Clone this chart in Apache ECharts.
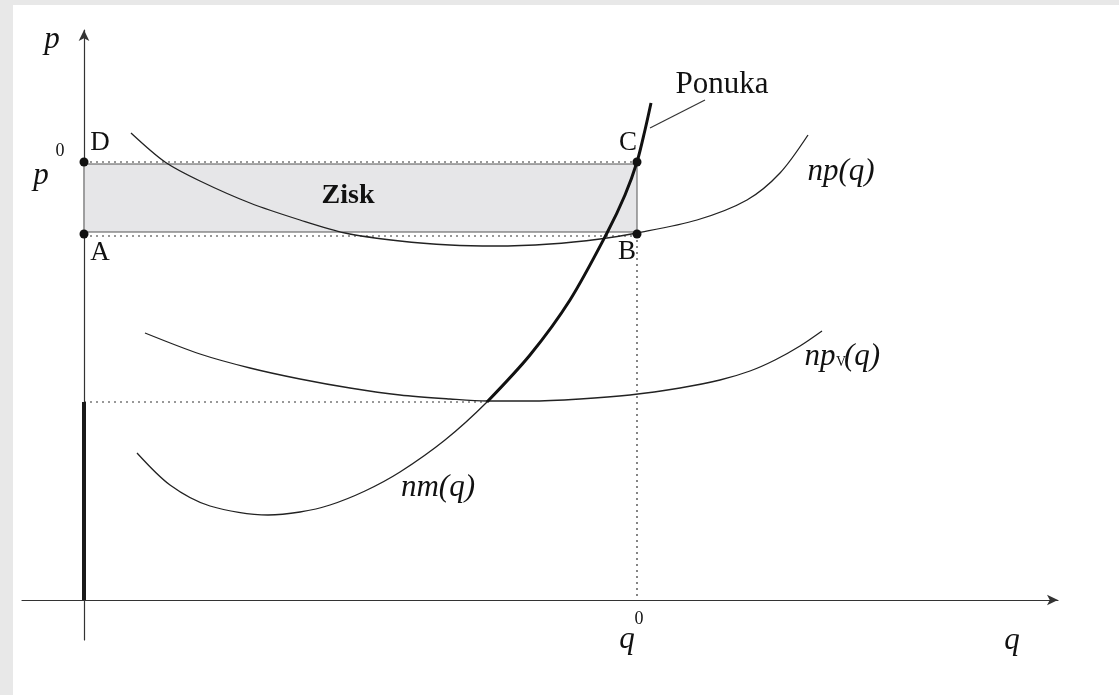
<!DOCTYPE html>
<html>
<head>
<meta charset="utf-8">
<title>Ponuka firmy a zisk</title>
<script src="https://cdn.jsdelivr.net/npm/echarts@6/dist/echarts.min.js"></script>
<style>
  html, body { margin: 0; padding: 0; background: #e8e8e8; width: 1119px; height: 695px; overflow: hidden; }
  #chart { position: absolute; left: 13px; top: 5px; width: 1106px; height: 690px; background: #ffffff; }
</style>
</head>
<body>
<div id="chart"></div>
<script>
// Key levels of the diagram (q = quantity, p = price)
const q0 = 553;        // optimal output at price p0
const p0 = 438;        // market price
const pAC = 366;       // average cost at q0
const qMin = 403;      // minimum of average variable cost
const pMin = 198;      // shutdown price

// Average cost  np(q)
const npCurve = [[47,467],[81,438],[116,419],[166,397],[216,380],[261,367],[316,359],[366,355],[411,354],[466,356],[516,361],[553,367],[613,380],[663,400],[696,427],[724,465]];
// Average variable cost  np_v(q)
const npvCurve = [[61,267],[116,246],[166,232],[216,221],[266,212],[316,205],[366,201],[403,199],[446,199],[496,201],[546,205],[596,212],[636,220],[666,229],[691,240],[716,254],[738,269]];
// Marginal cost  nm(q)
const nmCurve = [[53,147],[86,115],[126,94],[184,85],[216,88],[246,95],[281,109],[316,128],[361,160],[403,198],[446,245],[486,300],[523,367],[541,405],[553,438],[561,470],[567,497]];
// Supply curve: marginal cost above the shutdown point
const supplyCurve = nmCurve.filter(d => d[0] >= qMin);
// Leader line from the supply curve to its label
const leader = [[566,472],[621,500]];

// Points D, A, C, B
const cornerPoints = [[0,p0],[0,pAC],[q0,p0],[q0,pAC]];

// Text annotations: [text, q, p, kind]
const annotations = [
  ['p', -32, 560, 'ital'],
  ['p', -43, 424, 'ital'],
  ['0', -24, 449, 'sup'],
  ['D', 16, 457, 'point'],
  ['A', 16, 347, 'point'],
  ['C', 544, 457, 'point'],
  ['B', 543, 348, 'point'],
  ['Zisk', 264, 404, 'bold'],
  ['Ponuka', 638, 515, 'roman'],
  ['np(q)', 757, 428, 'ital'],
  ['np', 736, 243, 'ital'],
  ['V', 757, 238, 'sub'],
  ['(q)', 778, 243, 'ital'],
  ['nm(q)', 354, 112, 'ital'],
  ['q', 543, -40, 'ital'],
  ['0', 555, -19, 'sup'],
  ['q', 928, -41, 'ital']
];

const SERIF = '"Liberation Serif", "DejaVu Serif", serif';
const textStyles = {
  ital:  { fontFamily: SERIF, fontStyle: 'italic', fontSize: 31 },
  sup:   { fontFamily: SERIF, fontSize: 18 },
  sub:   { fontFamily: SERIF, fontSize: 14 },
  point: { fontFamily: SERIF, fontSize: 27 },
  bold:  { fontFamily: SERIF, fontWeight: 'bold', fontSize: 28 },
  roman: { fontFamily: SERIF, fontSize: 31 }
};

const chart = echarts.init(document.getElementById('chart'), null, { renderer: 'canvas' });

const thin = { color: '#222', width: 1.3 };
const dotted = { color: '#333', width: 1.2, type: [2, 4] };

function lineSeries(data, style, extra) {
  return Object.assign({
    type: 'line', data: data, symbol: 'none', silent: true,
    lineStyle: style, animation: false
  }, extra || {});
}

const series = [
  // profit rectangle and the dotted guides
  lineSeries([[0, p0], [q0, p0]], dotted, {
    markArea: {
      silent: true,
      itemStyle: { color: '#e6e6e8', borderColor: '#555', borderWidth: 1 },
      data: [[{ coord: [0, pAC + 2] }, { coord: [q0, p0 - 2] }]]
    }
  }),
  lineSeries([[0, pAC - 2], [q0, pAC - 2]], dotted),
  lineSeries([[q0, pAC], [q0, 0]], dotted),
  lineSeries([[0, pMin], [qMin, pMin]], dotted),
  // vertical part of supply along the price axis
  lineSeries([[0, 0], [0, pMin]], { color: '#1a1a1a', width: 4 }),
  // cost curves
  lineSeries(npCurve, thin, { smooth: 0.3 }),
  lineSeries(npvCurve, thin, { smooth: 0.3 }),
  lineSeries(nmCurve, thin, { smooth: 0.3 }),
  lineSeries(supplyCurve, { color: '#111', width: 3 }, { smooth: 0.3 }),
  lineSeries(leader, { color: '#333', width: 1.2 }),
  // points D, A, C, B
  {
    type: 'scatter', data: cornerPoints, symbol: 'circle', symbolSize: 9,
    itemStyle: { color: '#111', opacity: 1 }, silent: true, animation: false, z: 5
  },
  // annotations
  {
    type: 'scatter', silent: true, animation: false, symbolSize: 0, z: 6, clip: false,
    itemStyle: { opacity: 1 },
    data: annotations.map(a => ({
      value: [a[1], a[2]],
      label: Object.assign({
        show: true, position: 'inside', formatter: a[0],
        color: '#111', align: 'center', verticalAlign: 'middle'
      }, textStyles[a[3]])
    }))
  }
];

chart.setOption({
  backgroundColor: '#ffffff',
  animation: false,
  grid: { left: 9, right: 61, top: 25, bottom: 55, containLabel: false },
  xAxis: {
    type: 'value', min: -62, max: 974,
    axisLine: { onZero: true, symbol: ['none', 'arrow'], symbolSize: [8, 11], lineStyle: { color: '#333', width: 1.2 } },
    axisTick: { show: false }, axisLabel: { show: false }, splitLine: { show: false }
  },
  yAxis: {
    type: 'value', min: -40, max: 570,
    axisLine: { onZero: true, symbol: ['none', 'arrow'], symbolSize: [8, 11], lineStyle: { color: '#333', width: 1.2 } },
    axisTick: { show: false }, axisLabel: { show: false }, splitLine: { show: false }
  },
  series: series
});
</script>
</body>
</html>
